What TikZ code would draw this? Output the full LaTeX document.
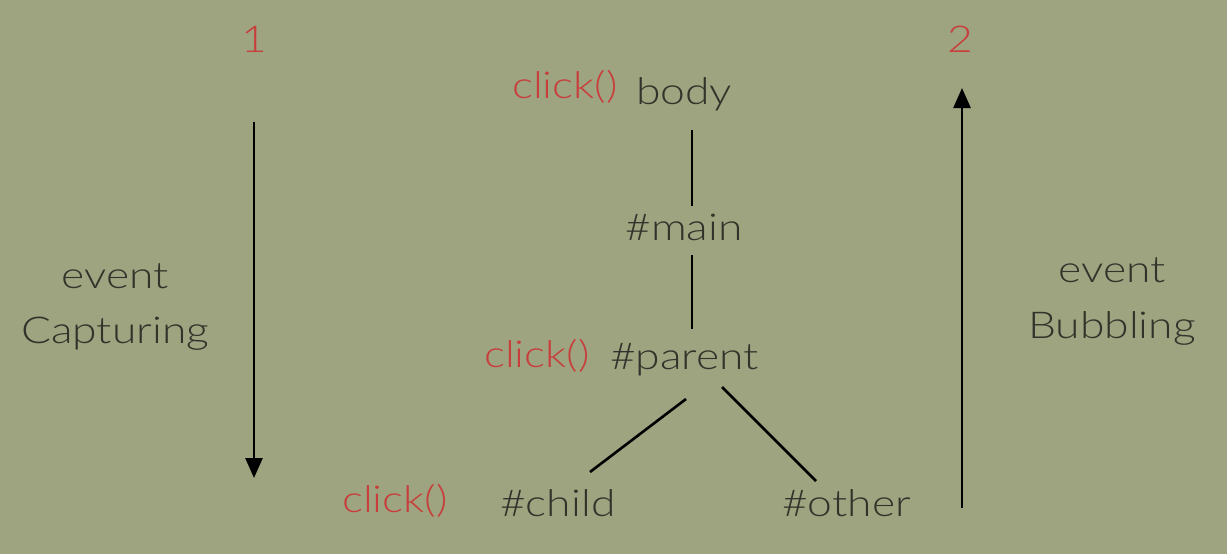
\documentclass[tikz,border=0pt]{standalone}
\usepackage{fontspec}
\setmainfont{Lato Light}[FakeStretch=1.2]
\usetikzlibrary{arrows.meta}
\definecolor{bg}{RGB}{158,163,128}
\definecolor{ink}{RGB}{48,52,42}
\definecolor{redink}{RGB}{200,62,60}
\begin{document}
\begin{tikzpicture}[x=1pt,y=-1pt,
  lbl/.style={font=\fontsize{37}{40}\selectfont, text=ink, inner sep=0pt, anchor=base},
  rlbl/.style={lbl, text=redink},
  edge/.style={draw=black, line width=2.6pt},
  flow/.style={edge, -{Triangle[length=20pt,width=17pt]}}]
\fill[bg] (0,0) rectangle (1227,554);
\useasboundingbox (0,0) rectangle (1227,554);

% step numbers
\node[rlbl] (n1) at (254,52) {1};
\node[rlbl] (n2) at (960,52) {2};

% side captions
\node[lbl] (ev1) at (115,288) {event};
\node[lbl] (cap) at (115,343) {Capturing};
\node[lbl] (ev2) at (1112,282) {event};
\node[lbl] (bub) at (1112,338) {Bubbling};

% tree
\node[lbl, anchor=base west] (body) at (636,104) {body};
\node[rlbl, anchor=base east] (c1) at (618,98) {click()};
\node[lbl] (main) at (684,240) {\#main};
\node[lbl, anchor=base west] (parent) at (610,369) {\#parent};
\node[rlbl, anchor=base east] (c2) at (590,367) {click()};
\node[lbl, anchor=base west] (child) at (500,516) {\#child};
\node[lbl, anchor=base west] (other) at (782,516) {\#other};
\node[rlbl, anchor=base east] (c3) at (448,512) {click()};

% connector end points
\coordinate (a1) at (254,122);
\coordinate (a2) at (254,478);
\coordinate (b1) at (962,508);
\coordinate (b2) at (962,88);
\coordinate (t1) at (692,130);
\coordinate (t2) at (692,206);
\coordinate (t3) at (692,255);
\coordinate (t4) at (692,329);
\coordinate (p1) at (686,399);
\coordinate (p2) at (590,472);
\coordinate (p3) at (722,387);
\coordinate (p4) at (816,481);

\draw[flow] (a1) -- (a2);
\draw[flow] (b1) -- (b2);
\draw[edge] (t1) -- (t2);
\draw[edge] (t3) -- (t4);
\draw[edge] (p1) -- (p2);
\draw[edge] (p3) -- (p4);
\end{tikzpicture}
\end{document}
